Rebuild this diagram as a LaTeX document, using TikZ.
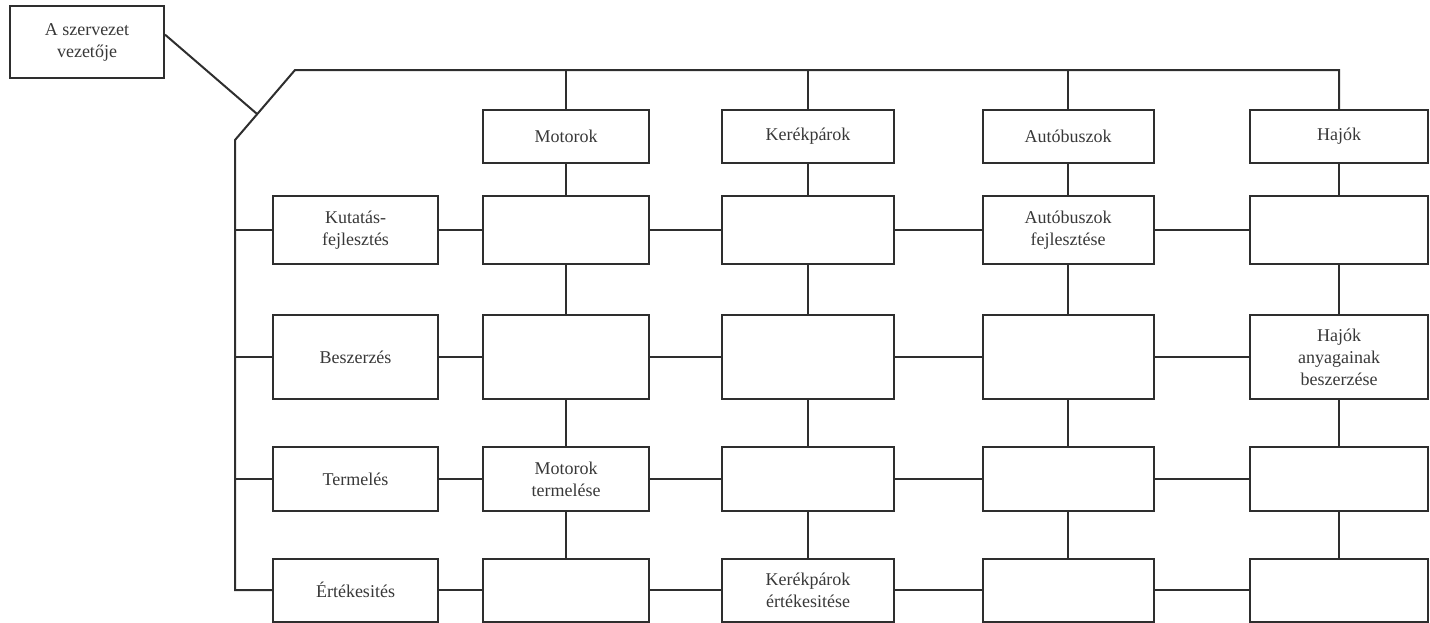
\documentclass[tikz,border=0pt]{standalone}
\usepackage{fontspec}
\setmainfont{Liberation Serif}
\usetikzlibrary{calc}
\begin{document}
\begin{tikzpicture}[x=0.5pt,y=-0.5pt,
  ink/.style={draw=black!82, line width=1pt},
  unit/.style={ink, rectangle, align=center, inner sep=1pt,
    text=black!78, font=\fontsize{9}{11}\selectfont},
  hdr/.style={unit, minimum height=26.5pt},
  rowA/.style={unit, minimum height=34pt},
  rowB/.style={unit, minimum height=42pt},
  rowC/.style={unit, minimum height=32pt},
  rowD/.style={unit, minimum height=31.5pt},
  colL/.style={minimum width=82.5pt},
  colM/.style={minimum width=83pt},
  colK/.style={minimum width=86pt},
  colA/.style={minimum width=85.5pt},
  colH/.style={minimum width=89pt}
]
\useasboundingbox (0,0) rectangle (1430,622);

% head of the organisation
\node[unit, minimum width=77pt, minimum height=36pt] (boss) at (87,42)
  {A szervezet\\vezetője};

% product divisions
\node[hdr, colM] (m0) at (566,136.5) {Motorok};
\node[hdr, colK] (k0) at (808,136.5) {Kerékpárok};
\node[hdr, colA] (a0) at (1068,136.5) {Autóbuszok};
\node[hdr, colH] (h0) at (1339,136.5) {Hajók};

% functional departments
\node[rowA, colL] (l1) at (355.5,230) {Kutatás-\\fejlesztés};
\node[rowB, colL] (l2) at (355.5,357) {Beszerzés};
\node[rowC, colL] (l3) at (355.5,479) {Termelés};
\node[rowD, colL] (l4) at (355.5,590) {Értékesités};

% matrix cells
\node[rowA, colM] (m1) at (566,230) {};
\node[rowB, colM] (m2) at (566,357) {};
\node[rowC, colM] (m3) at (566,479) {Motorok\\termelése};
\node[rowD, colM] (m4) at (566,590) {};

\node[rowA, colK] (k1) at (808,230) {};
\node[rowB, colK] (k2) at (808,357) {};
\node[rowC, colK] (k3) at (808,479) {};
\node[rowD, colK] (k4) at (808,590) {Kerékpárok\\értékesitése};

\node[rowA, colA] (a1) at (1068,230) {Autóbuszok\\fejlesztése};
\node[rowB, colA] (a2) at (1068,357) {};
\node[rowC, colA] (a3) at (1068,479) {};
\node[rowD, colA] (a4) at (1068,590) {};

\node[rowA, colH] (h1) at (1339,230) {};
\node[rowB, colH] (h2) at (1339,357) {Hajók\\anyagainak\\beszerzése};
\node[rowC, colH] (h3) at (1339,479) {};
\node[rowD, colH] (h4) at (1339,590) {};

% main trunk: bevelled corner, top bus and left spine
\coordinate (tc) at (295,70);
\coordinate (bc) at (235,140);
\coordinate (sp) at (235,590);
\coordinate (jn) at ($(bc)!0.37!(tc)$);
\draw[ink] (h0.north) |- (tc) -- (bc) -- (sp) -- (l4.west);
\draw[ink] ($(boss.north east)!0.4!(boss.south east)$) -- (jn);

% drops to the divisions
\foreach \n in {m0,k0,a0}
  \draw[ink] (\n.north) -- (\n.north |- tc);

% spine branches to departments
\foreach \n in {l1,l2,l3}
  \draw[ink] (\n.west) -- (\n.west -| bc);

% horizontal links along each row
\foreach \r in {1,2,3,4} {
  \draw[ink] (l\r.east) -- (m\r.west);
  \draw[ink] (m\r.east) -- (k\r.west);
  \draw[ink] (k\r.east) -- (a\r.west);
  \draw[ink] (a\r.east) -- (h\r.west);
}

% vertical links down each column
\foreach \c in {m,k,a,h} {
  \draw[ink] (\c0.south) -- (\c1.north);
  \draw[ink] (\c1.south) -- (\c2.north);
  \draw[ink] (\c2.south) -- (\c3.north);
  \draw[ink] (\c3.south) -- (\c4.north);
}
\end{tikzpicture}
\end{document}
